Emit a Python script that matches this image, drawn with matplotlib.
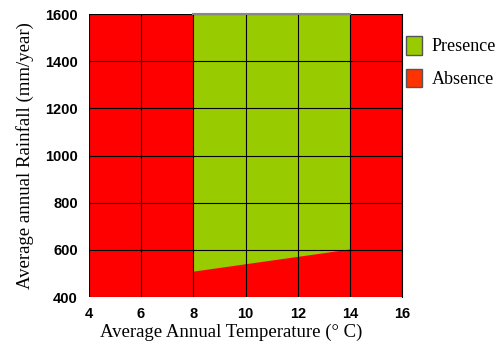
import matplotlib.pyplot as plt
from matplotlib.patches import Patch

# データ
temp_edges = [8, 14]            # 存在域の温度範囲
rain_lower = [510, 604]         # 存在域の下限（降水量）
rain_upper = [1600, 1600]
x_ticks = [4, 6, 8, 10, 12, 14, 16]
y_ticks = [400, 600, 800, 1000, 1200, 1400, 1600]

red = "#ff0000"
green = "#99cc00"

fig = plt.figure(figsize=(4.99, 3.43), dpi=100)
ax = fig.add_axes([0.178, 0.134, 0.628, 0.825])

ax.set_facecolor(red)
ax.fill_between(temp_edges, rain_lower, rain_upper, color=green, lw=0, zorder=1)
# 上端のグレー線
ax.plot(temp_edges, rain_upper, color="#888888", lw=1.5, zorder=3, clip_on=False)

ax.set_xlim(4, 16)
ax.set_ylim(400, 1600)
ax.set_xticks(x_ticks)
ax.set_yticks(y_ticks)
ax.grid(True, color="black", lw=0.8, zorder=2)
ax.set_axisbelow(False)
ax.tick_params(axis="y", length=0, pad=8)
ax.tick_params(axis="x", length=0, pad=7)
for lab in ax.get_xticklabels() + ax.get_yticklabels():
    lab.set_fontfamily("Liberation Sans")
    lab.set_fontweight("bold")
    lab.set_fontsize(10.5)

for s in ["left", "bottom", "top"]:
    ax.spines[s].set_visible(False)
ax.spines["right"].set_color("black")

ax.set_xlabel("Average Annual Temperature (° C)", family="Liberation Serif", fontsize=13.5)
ax.xaxis.set_label_coords(0.455, -0.095)
ax.xaxis.label.set_va("top")
ax.set_ylabel("Average annual Rainfall (mm/year)", family="Liberation Serif", fontsize=13.5, labelpad=8)

handles = [Patch(facecolor=green, edgecolor="#555555", label="Presence"),
           Patch(facecolor="#ff3300", edgecolor="#555555", label="Absence")]
fig.legend(handles=handles, loc="upper left", bbox_to_anchor=(0.814, 0.895),
           frameon=False, prop={"family": "Liberation Serif", "size": 13},
           handlelength=0.85, handleheight=1.2, handletextpad=0.55, labelspacing=0.75,
           borderaxespad=0, borderpad=0)

fig.savefig("out.png")
